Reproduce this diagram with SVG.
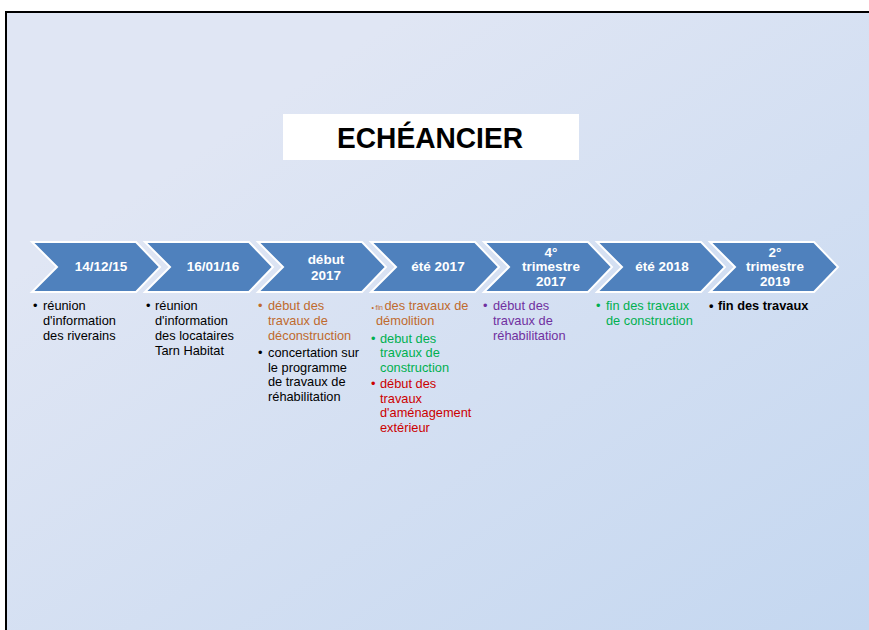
<svg xmlns="http://www.w3.org/2000/svg" width="869" height="630" viewBox="0 0 869 630">
<defs>
<linearGradient id="bg" x1="0.25" y1="0.2" x2="1" y2="1">
<stop offset="0" stop-color="#E0E6F4"/>
<stop offset="1" stop-color="#C4D7F0"/>
</linearGradient>
<polygon id="chev" points="0,0 104,0 128,25 104,50 0,50 25,25"/>
</defs>
<style>
.chev{fill:#4F81BD;stroke:#FFFFFF;stroke-width:2}
.hd{font-family:"Liberation Sans",Arial,sans-serif;font-size:13.5px;font-weight:bold;fill:#FFFFFF;text-anchor:middle}
.tx{font-family:"Liberation Sans",Arial,sans-serif;font-size:12.8px}
.sm{font-size:7px}
.k{fill:#000000}
.br{fill:#BF6A2E}
.gr{fill:#00B050}
.rd{fill:#CC0000}
.pu{fill:#7030A0}
.b{font-weight:bold}
</style>
<rect x="0" y="0" width="869" height="630" fill="#FFFFFF"/>
<rect x="6" y="12" width="863" height="618" fill="url(#bg)"/>
<path d="M869,12 H6 V630" fill="none" stroke="#000000" stroke-width="2"/>
<g id="title">
<rect x="283" y="114" width="296" height="46" fill="#FFFFFF"/>
<text x="430" y="148" text-anchor="middle" font-family="'Liberation Sans',Arial,sans-serif" font-weight="bold" font-size="29" textLength="186" lengthAdjust="spacingAndGlyphs" fill="#000000">ECHÉANCIER</text>
</g>
<g id="connectors"></g>
<g id="step1">
<use href="#chev" x="32" y="242" class="chev"/>
<text class="hd" x="101" y="271">14/12/15</text>
<text class="tx k" x="33" y="310">•</text>
<text class="tx k" x="43" y="310">réunion</text>
<text class="tx k" x="43" y="325">d'information</text>
<text class="tx k" x="43" y="340">des riverains</text>
</g>
<g id="step2">
<use href="#chev" x="145" y="242" class="chev"/>
<text class="hd" x="213" y="271">16/01/16</text>
<text class="tx k" x="146" y="310">•</text>
<text class="tx k" x="155" y="310">réunion</text>
<text class="tx k" x="155" y="325">d'information</text>
<text class="tx k" x="155" y="340">des locataires</text>
<text class="tx k" x="155" y="355">Tarn Habitat</text>
</g>
<g id="step3">
<use href="#chev" x="258" y="242" class="chev"/>
<text class="hd" x="326" y="264">début</text>
<text class="hd" x="326" y="280">2017</text>
<text class="tx br" x="258" y="310">•</text>
<text class="tx br" x="268" y="310">début des</text>
<text class="tx br" x="268" y="325">travaux de</text>
<text class="tx br" x="268" y="340">déconstruction</text>
<text class="tx k" x="258" y="357">•</text>
<text class="tx k" x="268" y="357">concertation sur</text>
<text class="tx k" x="268" y="372">le programme</text>
<text class="tx k" x="268" y="386">de travaux de</text>
<text class="tx k" x="268" y="401">réhabilitation</text>
</g>
<g id="step4">
<use href="#chev" x="371" y="242" class="chev"/>
<text class="hd" x="438" y="271">été 2017</text>
<text class="tx sm br" x="371.5" y="309.5">•</text>
<text class="tx sm br" x="375.5" y="310">fin</text>
<text class="tx br" x="384.5" y="310">des travaux de</text>
<text class="tx br" x="376" y="325">démolition</text>
<text class="tx gr" x="371" y="343">•</text>
<text class="tx gr" x="380" y="343">debut des</text>
<text class="tx gr" x="380" y="357">travaux de</text>
<text class="tx gr" x="380" y="372">construction</text>
<text class="tx rd" x="371" y="388">•</text>
<text class="tx rd" x="380" y="388">début des</text>
<text class="tx rd" x="380" y="403">travaux</text>
<text class="tx rd" x="380" y="417">d'aménagement</text>
<text class="tx rd" x="380" y="432">extérieur</text>
</g>
<g id="step5">
<use href="#chev" x="484" y="242" class="chev"/>
<text class="hd" x="551" y="257">4°</text>
<text class="hd" x="551" y="271">trimestre</text>
<text class="hd" x="551" y="286">2017</text>
<text class="tx pu" x="483" y="310">•</text>
<text class="tx pu" x="493" y="310">début des</text>
<text class="tx pu" x="493" y="325">travaux de</text>
<text class="tx pu" x="493" y="340">réhabilitation</text>
</g>
<g id="step6">
<use href="#chev" x="597" y="242" class="chev"/>
<text class="hd" x="662" y="271">été 2018</text>
<text class="tx gr" x="596" y="310">•</text>
<text class="tx gr" x="606" y="310">fin des travaux</text>
<text class="tx gr" x="606" y="325">de construction</text>
</g>
<g id="step7">
<use href="#chev" x="710" y="242" class="chev"/>
<text class="hd" x="775" y="257">2°</text>
<text class="hd" x="775" y="271">trimestre</text>
<text class="hd" x="775" y="286">2019</text>
<text class="tx k b" x="709" y="310">•</text>
<text class="tx k b" x="718" y="310">fin des travaux</text>
</g>
</svg>
